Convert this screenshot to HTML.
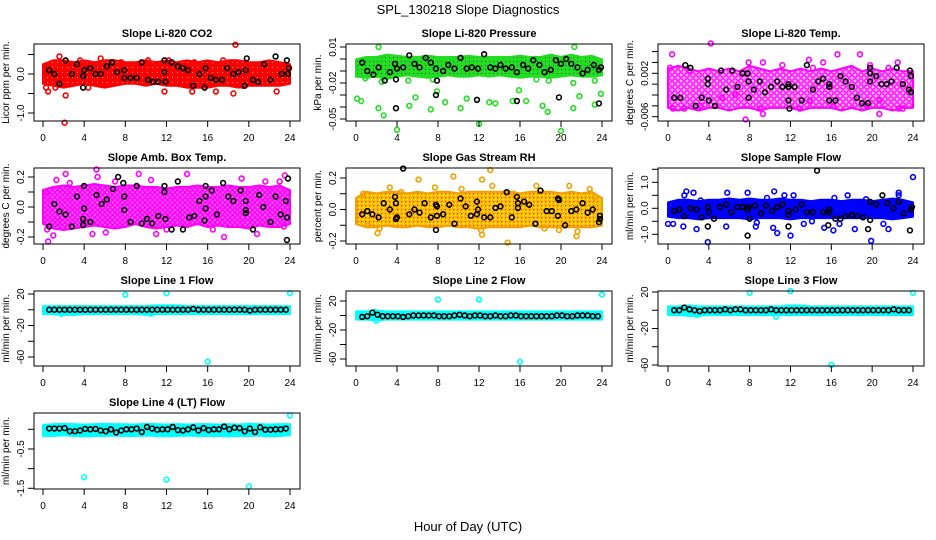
<!DOCTYPE html>
<html><head><meta charset="utf-8"><style>
html,body{margin:0;padding:0;background:#fff;}
svg{display:block;font-family:"Liberation Sans",sans-serif;}
</style></head><body>
<svg id="chart" width="936" height="540" xmlns="http://www.w3.org/2000/svg">
<defs>
<pattern id="patMag" width="6" height="6" patternUnits="userSpaceOnUse"><rect width="6" height="6" fill="#ffb0ff"/><circle cx="3" cy="3" r="2.2" fill="none" stroke="#ff00ff" stroke-width="1.4"/></pattern>
<pattern id="patMag2" width="5" height="5" patternUnits="userSpaceOnUse"><rect width="5" height="5" fill="#ff60ff"/><circle cx="2.5" cy="2.5" r="1.9" fill="none" stroke="#ff00ff" stroke-width="1.4"/></pattern>
<pattern id="patGreen" width="4" height="4" patternUnits="userSpaceOnUse"><rect width="4" height="4" fill="#22dd22"/><rect x="1" y="1" width="1" height="1" fill="#116611"/></pattern>
<pattern id="patOrange" width="4" height="4" patternUnits="userSpaceOnUse"><rect width="4" height="4" fill="#ffc000"/><rect x="1" y="1" width="1.2" height="1.2" fill="#e03000"/><rect x="3" y="3" width="1" height="1" fill="#ffff30"/></pattern>
<pattern id="patRed" width="5" height="5" patternUnits="userSpaceOnUse"><rect width="5" height="5" fill="#ff0000"/><rect x="2" y="2" width="1" height="1" fill="#ff9090"/></pattern>
</defs>
<text x="468" y="14" text-anchor="middle" font-size="13">SPL_130218  Slope Diagnostics</text>
<text x="468" y="531" text-anchor="middle" font-size="13">Hour of Day (UTC)</text>
</svg>
<script>
const xTicks=[0,4,8,12,16,20,24];
const bandHours=[0,1,2,3,4,5,6,7,8,9,10,11,12,13,14,15,16,17,18,19,20,21,22,23,24];
const lineHours=[0.6,1.1,1.6,2.1,2.6,3.1,3.6,4.1,4.6,5.1,5.6,6.1,6.6,7.1,7.6,8.1,8.6,9.1,9.6,10.1,10.6,11.1,11.6,12.1,12.6,13.1,13.6,14.1,14.6,15.1,15.6,16.1,16.6,17.1,17.6,18.1,18.6,19.1,19.6,20.1,20.6,21.1,21.6,22.1,22.6,23.1,23.6];

// Panel 1 CO2
const p1Lo=[-0.2,-0.25,-0.3,-0.25,-0.2,-0.25,-0.3,-0.25,-0.2,-0.2,-0.25,-0.2,-0.25,-0.25,-0.3,-0.3,-0.3,-0.25,-0.25,-0.3,-0.25,-0.25,-0.25,-0.25,-0.2];
const p1Hi=[0.2,0.3,0.3,0.25,0.3,0.25,0.3,0.3,0.25,0.25,0.3,0.25,0.3,0.25,0.3,0.25,0.3,0.25,0.3,0.3,0.25,0.25,0.3,0.25,0.2];
const p1Col=[[2.1,-1.25],[18.7,0.75],[2.2,-0.55],[0.3,-0.35],[0.5,-0.45],[1.6,0.45],[5.6,0.4],[12.2,0.35],[14.5,-0.45],[16.8,-0.45],[18.5,-0.5],[22.7,-0.45],[3.6,0.35],[10.2,0.35],[17.5,0.35],[1.2,-0.35],[19.4,-0.3],[7.6,0.3],[11.8,-0.45],[4.4,-0.35],[14.7,0.3]];
const p1Blk=[[0.6,0.1],[1.1,0.0],[1.6,-0.25],[2.2,0.35],[2.8,0.0],[3.3,0.25],[3.9,-0.05],[3.9,-0.35],[4,0.1],[4.6,0.15],[5.1,0.0],[5.6,0.0],[6.2,0.2],[6.7,0.3],[7.2,0.05],[7.9,0.1],[7.9,-0.1],[8.5,-0.1],[9.1,-0.1],[9.6,0.3],[10.2,-0.15],[10.7,-0.2],[11.2,-0.2],[11.8,0.05],[11.8,0.35],[11.9,-0.2],[12.5,0.3],[13.1,0.2],[13.6,0.15],[14.1,0.1],[14.6,-0.3],[15.2,0.0],[15.7,-0.35],[15.8,0.15],[16.3,-0.1],[16.8,-0.15],[17.4,-0.15],[17.9,0.15],[18.5,0.0],[19,0.05],[19.6,-0.3],[19.7,0.1],[19.8,0.4],[20.4,-0.15],[20.9,-0.2],[21.5,0.25],[22.1,-0.15],[22.6,0.45],[23.2,0.0],[23.7,0.35],[23.8,0.0],[23.9,0.15]];
const p1YTicks=[0.5,0,-0.5,-1];
const p1YLabels=["","0.0","","-1.0"];

// Panel 2 Pressure
const p2Lo=[-0.013,-0.014,-0.013,-0.015,-0.013,-0.012,-0.013,-0.014,-0.013,-0.012,-0.013,-0.013,-0.012,-0.013,-0.012,-0.013,-0.014,-0.013,-0.013,-0.014,-0.013,-0.012,-0.013,-0.013,-0.012];
const p2Hi=[-0.002,0.0,0.0,0.002,0.001,0.0,0.0,0.001,0.0,0.0,0.0,0.001,0.0,0.0,0.0,0.0,0.001,0.0,0.0,0.002,0.0,0.002,0.0,0.001,-0.002];
const p2Col=[[0.1,-0.033],[0.5,-0.035],[2.2,-0.041],[2.7,-0.047],[4,-0.059],[5.2,-0.039],[5.8,-0.032],[7.3,-0.042],[7.9,-0.027],[8.7,-0.036],[10.2,-0.041],[10.8,-0.033],[12,-0.054],[13,-0.036],[13.6,-0.037],[15.3,-0.035],[15.9,-0.026],[16.6,-0.035],[18.2,-0.039],[18.7,-0.044],[20,-0.060],[21.2,-0.041],[21.8,-0.031],[23.3,-0.038],[23.9,-0.029],[23.3,-0.018],[21.2,-0.02],[17.6,-0.017],[2.2,0.01],[21.3,0.01],[2.5,-0.019],[5.1,-0.018],[7.5,-0.017],[18.8,-0.018],[0.9,-0.016]];
const p2Blk=[[0.6,-0.003],[1.1,-0.010],[1.7,-0.013],[2.2,-0.007],[2.8,-0.018],[3.3,-0.011],[3.8,-0.004],[3.9,-0.017],[3.9,-0.041],[4,-0.008],[4.6,-0.007],[5.2,0.003],[5.7,-0.004],[6.2,-0.007],[6.8,0.001],[7.3,-0.003],[7.8,-0.008],[7.9,-0.018],[7.8,-0.03],[8.5,-0.010],[9,-0.005],[9.6,-0.008],[10.2,0.001],[10.8,-0.008],[11.3,-0.007],[11.8,-0.034],[11.9,-0.008],[12.5,0.004],[13.1,-0.007],[13.6,-0.008],[14.1,-0.005],[14.6,-0.008],[15.2,-0.007],[15.7,-0.011],[15.7,-0.035],[16.3,-0.005],[16.8,-0.008],[17.3,-0.001],[17.9,-0.005],[18.4,-0.011],[19,-0.009],[19.5,-0.001],[19.8,-0.032],[20,-0.004],[20.5,0.0],[21,-0.004],[21.6,-0.007],[22.1,-0.012],[22.6,-0.009],[23.2,-0.005],[23.7,-0.009],[23.7,-0.037],[23.9,-0.007]];
const p2YTicks=[0.01,0,-0.01,-0.02,-0.03,-0.04,-0.05];
const p2YLabels=["0.01","","","-0.02","","","-0.05"];

// Panel 3 Li-820 Temp
const p3Lo=[-0.004,-0.0045,-0.004,-0.0045,-0.004,-0.004,-0.0045,-0.004,-0.004,-0.0045,-0.004,-0.004,-0.004,-0.0045,-0.004,-0.004,-0.004,-0.0045,-0.004,-0.0045,-0.004,-0.004,-0.0045,-0.004,-0.004];
const p3Hi=[0.0025,0.003,0.0025,0.002,0.0025,0.002,0.0025,0.002,0.003,0.0025,0.002,0.0025,0.002,0.0025,0.002,0.0025,0.002,0.0025,0.003,0.002,0.0025,0.002,0.0025,0.002,0.002];
const p3Col=[[0.4,0.0055],[4.2,0.0075],[13.8,0.0045],[16.6,0.0055],[18.8,0.0055],[0.5,-0.0045],[7.6,-0.0065],[9,-0.0045],[9.3,-0.0055],[12.9,-0.0045],[20.7,-0.0055],[22.6,-0.0045],[23,-0.0045],[1.6,-0.0045],[3.2,-0.004],[16.2,-0.004],[19.5,-0.004],[0.2,0.003],[7.9,0.004],[9.3,0.004],[11.2,0.0035],[14.2,0.003],[15.2,0.004],[19.8,0.0035],[22.5,0.004],[5.3,-0.0025],[6.6,-0.002],[13.9,-0.003],[20.7,-0.003],[2.1,0.0025],[21.6,0.003]];
const p3Blk=[[0.6,-0.0025],[1.2,-0.0025],[1.7,0.0035],[2.2,0.003],[2.7,-0.004],[3.3,-0.0025],[3.9,0.001],[3.9,0.0],[4,-0.003],[4.6,-0.004],[5.2,0.0025],[5.7,-0.001],[6.3,0.0025],[6.8,-0.0005],[7.3,0.002],[7.8,0.002],[7.9,0.0005],[7.9,-0.0025],[8.4,-0.001],[9,0.0005],[9.5,-0.0015],[10.1,-0.0005],[10.7,0.0005],[11.2,-0.0005],[11.8,-0.0005],[11.8,0.0],[11.8,-0.003],[11.9,-0.0045],[12.4,-0.0005],[13.1,-0.003],[13.6,0.0035],[14.2,-0.001],[14.7,0.0005],[15.2,0.001],[15.8,0.0],[15.8,-0.0005],[15.8,-0.003],[16.4,-0.003],[16.9,0.0015],[17.4,0.0005],[18,-0.0005],[18.5,-0.0025],[19.0,-0.0035],[19.6,-0.0035],[19.8,0.0005],[19.8,0.002],[19.8,0.003],[20.4,0.0015],[20.9,0.0],[21.4,0.0],[21.9,0.0005],[22.4,0.003],[23.0,0.0],[23.6,-0.001],[23.7,0.0025],[23.8,0.0015],[23.8,-0.0015]];
const p3YTicks=[0.006,0.004,0.002,0,-0.002,-0.004,-0.006];
const p3YLabels=["","","0.002","","","","-0.006"];

// Panel 4 Amb Box Temp
const p4Lo=[-0.1,-0.13,-0.14,-0.13,-0.12,-0.11,-0.12,-0.13,-0.12,-0.1,-0.12,-0.13,-0.12,-0.11,-0.12,-0.1,-0.12,-0.11,-0.12,-0.12,-0.13,-0.11,-0.12,-0.12,-0.1];
const p4Hi=[0.1,0.12,0.13,0.12,0.13,0.14,0.13,0.12,0.13,0.13,0.12,0.12,0.11,0.12,0.12,0.13,0.12,0.12,0.13,0.12,0.12,0.13,0.12,0.13,0.1];
const p4Col=[[0.3,0.1],[0.5,-0.23],[1,-0.19],[1.3,0.18],[2.2,0.22],[5.2,0.25],[5.3,0.2],[6.1,-0.17],[7,0.17],[9.3,0.22],[10.5,0.18],[11,-0.18],[14,0.22],[17.6,-0.2],[19.3,0.19],[20.8,-0.18],[21.6,0.17],[23,0.17],[23.5,0.21],[23.4,-0.13],[4.8,-0.18],[0.4,-0.15],[2.6,0.16],[12,-0.15],[16.5,-0.15]];
const p4Blk=[[0.6,-0.13],[1.1,0.02],[1.6,-0.03],[2.2,-0.05],[2.8,-0.13],[3.3,0.07],[3.9,-0.12],[3.9,-0.08],[4,0.14],[4,-0.01],[4.6,-0.1],[5.2,0.08],[5.7,0.02],[6.2,0.05],[6.8,0.12],[7.3,0.2],[7.8,0.16],[7.9,0.07],[7.9,-0.02],[8.5,-0.1],[9.1,0.14],[9.6,-0.11],[10.1,-0.08],[10.6,-0.11],[11.2,-0.06],[11.8,0.14],[11.8,0.1],[11.9,-0.08],[12.5,-0.15],[13.1,0.17],[13.6,-0.15],[14.2,-0.07],[14.7,-0.06],[15.2,0.04],[15.8,0.14],[15.8,0.07],[15.8,-0.01],[15.7,-0.09],[16.4,0.11],[16.9,-0.05],[17.5,0.16],[18,0.07],[18.5,0.04],[19.2,0.11],[19.7,0.04],[19.7,-0.02],[19.7,-0.04],[20.4,-0.15],[21,0.08],[21.4,0.0],[22.1,-0.1],[22.6,0.07],[23.1,-0.05],[23.6,0.04],[23.8,0.19],[23.7,-0.07],[23.7,-0.22]];
const p4YTicks=[0.2,0.1,0,-0.1,-0.2];
const p4YLabels=["0.2","","0.0","","-0.2"];

// Panel 5 Gas Stream RH
const p5Lo=[-0.08,-0.1,-0.1,-0.09,-0.1,-0.1,-0.09,-0.1,-0.1,-0.09,-0.1,-0.1,-0.11,-0.1,-0.1,-0.1,-0.1,-0.09,-0.1,-0.1,-0.1,-0.1,-0.1,-0.1,-0.09];
const p5Hi=[0.06,0.1,0.09,0.1,0.1,0.09,0.1,0.09,0.1,0.1,0.09,0.1,0.1,0.1,0.1,0.1,0.09,0.1,0.1,0.1,0.09,0.1,0.09,0.1,0.06];
const p5Col=[[2.1,-0.15],[2.3,-0.12],[3.3,0.14],[4.4,0.11],[6.1,0.19],[7.7,0.14],[9.5,0.21],[10.3,0.13],[12.3,0.19],[12.3,-0.16],[12.2,-0.13],[13.1,0.25],[13.3,0.15],[14.8,-0.21],[17.6,0.15],[18.4,-0.12],[19.8,-0.13],[20.8,0.15],[21.5,-0.17],[21.6,-0.14],[22.8,0.13],[23.3,0.08],[0.7,0.1],[1.2,-0.1],[15.4,0.1]];
const p5Blk=[[0.6,-0.03],[1.1,-0.01],[1.6,-0.03],[2.2,-0.05],[2.7,0.04],[3.3,0.0],[3.8,0.08],[3.9,0.04],[3.9,-0.06],[4,-0.05],[4.6,0.26],[5.2,-0.03],[5.7,0.0],[6.2,-0.02],[6.7,0.04],[7.3,-0.05],[7.8,0.03],[7.9,0.02],[7.9,-0.04],[7.8,-0.13],[8.5,-0.03],[9.1,0.03],[9.6,-0.09],[10.2,0.07],[10.7,0.02],[11.2,-0.04],[11.8,0.05],[11.8,-0.03],[11.9,0.0],[12.5,-0.05],[13.1,-0.05],[13.6,0.01],[14.1,0.02],[14.7,0.11],[15.2,-0.05],[15.7,0.08],[15.8,0.04],[15.8,0.01],[16.4,0.05],[16.9,0.03],[17.5,-0.09],[18.0,0.12],[18.6,-0.01],[19.1,-0.01],[19.7,0.07],[19.8,0.06],[19.7,-0.04],[20.4,-0.1],[21,-0.01],[21.5,0.0],[22.1,0.04],[22.6,-0.02],[23.1,0.0],[23.8,-0.04],[23.8,-0.06],[23.7,-0.08]];
const p5YTicks=[0.2,0.1,0,-0.1,-0.2];
const p5YLabels=["0.2","","0.0","","-0.2"];

// Panel 6 Sample Flow
const p6Lo=[-0.25,-0.3,-0.3,-0.35,-0.3,-0.3,-0.3,-0.3,-0.35,-0.3,-0.3,-0.3,-0.35,-0.3,-0.3,-0.3,-0.3,-0.3,-0.3,-0.3,-0.3,-0.3,-0.35,-0.3,-0.25];
const p6Hi=[0.15,0.25,0.25,0.2,0.25,0.25,0.3,0.25,0.3,0.25,0.25,0.3,0.25,0.25,0.2,0.25,0.25,0.2,0.25,0.25,0.2,0.25,0.3,0.25,0.15];
const p6Col=[[0,-0.6],[0.5,-0.6],[1.5,-0.7],[1.6,0.5],[1.8,0.65],[2.5,0.6],[2.8,-0.8],[3.2,0.3],[3.9,-1.3],[4.4,-0.3],[5.8,0.6],[5.7,-0.7],[7.8,0.6],[8.6,-0.7],[8.7,-0.55],[10.3,-0.75],[10.4,0.65],[10.7,-0.95],[11.4,0.5],[12,-1.05],[12.3,0.5],[13.3,-0.6],[15.3,-0.75],[16.2,-0.85],[16.3,0.4],[16.8,-0.6],[17.6,0.5],[18.3,-0.8],[19.4,0.35],[19.9,-1.25],[21.1,-0.6],[21.6,-0.8],[22.6,0.6],[22.6,0.5],[24,1.2],[9.7,0.4],[14.1,-0.5]];
const p6Blk=[[0.6,-0.1],[1.1,-0.05],[1.6,-0.3],[2.2,0.0],[2.8,-0.05],[3.3,-0.35],[3.9,-0.7],[3.9,0.05],[4,-0.15],[4.5,-0.4],[5.1,0.05],[5.7,0.15],[6.2,-0.15],[6.8,0.05],[7.3,0.05],[7.8,-1.05],[7.8,-0.05],[7.9,0.05],[8,-0.4],[8.5,0.1],[9.1,-0.2],[9.6,0.1],[10.2,-0.1],[10.7,0.05],[11.2,0.15],[11.8,-0.1],[11.8,-0.25],[11.8,-0.7],[12.5,-0.05],[13.1,0.15],[13.6,-0.15],[14.2,-0.15],[14.6,1.45],[15.2,-0.15],[15.8,-0.15],[15.8,-0.05],[15.7,-0.65],[16.4,-0.4],[16.9,-0.4],[17.4,-0.3],[18,-0.25],[18.5,-0.3],[19.1,-0.35],[19.6,-0.8],[19.8,0.25],[19.8,-0.45],[20.4,0.15],[21,0.5],[21.5,0.2],[22.1,0.0],[22.6,0.25],[23.1,-0.2],[23.7,-0.85],[23.8,-0.05],[23.9,0.05]];
const p6YTicks=[1.5,1,0.5,0,-0.5,-1];
const p6YLabels=["","1.0","","0.0","","-1.0"];

// Panels 7-10 Line flows
const p7Lo=[-3,-3,-4,-4,-3,-3,-3,-3,-3,-3,-4,-3,-3,-3,-3,-3,-3,-3,-3,-3,-3,-3,-3,-3,-3];
const p7Hi=[2,2,2,2,2,2,2,2,2,2,2,3,3,3,2,2,2,2,2,2,2,2,2,2,2];
const p7Col=[[8,19],[12,21],[24,21],[16,-66],[1.8,-5],[2.8,-4],[10.5,-5],[11.7,3],[13.6,2]];
const p7Blk=[0,0,0,0,0,0,0,0,0,0,0,0,0,0,0,0,0,0,0,0,0,0,0,0,0,0,0,0,1,0,0,0,0,0,0,0,0,0,0,-1,0,0,0,0,0,0,0];
const p8Lo=[-3,-3,-4,-3,-3,-3,-3,-3,-3,-3,-3,-3,-3,-3,-3,-3,-3,-3,-3,-3,-3,-3,-3,-3,-3];
const p8Hi=[3,3,4,3,3,3,3,3,3,3,3,3,3,3,3,3,3,3,3,3,3,3,3,3,3];
const p8Col=[[8,22],[12,22],[24,29],[16,-64],[2,-7],[1.8,5]];
const p8Blk=[-2,-1,4,1,-1,-1,-1,-1,-2,-1,0,0,0,0,0,-1,-1,-1,0,1,0,-1,0,0,-1,-1,0,-1,-1,0,0,-1,-1,-1,-1,-1,-1,-1,0,0,-1,-1,0,0,0,-1,-1];
const p9Lo=[-3,-3,-4,-4,-3,-3,-3,-3,-3,-3,-3,-3,-3,-3,-3,-3,-3,-3,-3,-3,-3,-3,-3,-3,-3];
const p9Hi=[2,2,3,2,2,2,2,2,2,2,2,2,3,3,2,2,2,2,2,2,2,2,2,2,2];
const p9Col=[[8,19],[12,21],[24,19],[16,-60],[10.6,-7],[2.8,-5],[11.6,3],[13.4,2]];
const p9Blk=[0,0,3,1,0,-1,0,0,0,0,1,0,1,1,0,0,0,0,0,1,0,0,0,0,0,0,0,0,0,0,0,0,0,0,0,0,0,0,0,0,0,0,0,1,0,0,0];
const p10Lo=[-0.12,-0.12,-0.1,-0.12,-0.13,-0.12,-0.12,-0.11,-0.12,-0.12,-0.11,-0.12,-0.13,-0.12,-0.11,-0.12,-0.12,-0.12,-0.13,-0.12,-0.12,-0.11,-0.13,-0.12,-0.1];
const p10Hi=[0.06,0.08,0.09,0.08,0.07,0.08,0.09,0.08,0.08,0.07,0.09,0.08,0.07,0.08,0.07,0.08,0.08,0.07,0.08,0.07,0.09,0.08,0.07,0.08,0.08];
const p10Col=[[4,-1.22],[12,-1.28],[20,-1.45],[24,0.35]];
const p10Blk=[0.02,0.02,0.02,0.03,-0.05,-0.05,-0.03,0.01,0.0,0.01,-0.03,-0.05,0.0,-0.08,-0.03,0.0,0.0,0.02,-0.07,0.06,0.02,-0.01,0.0,0.0,0.06,-0.02,-0.03,0.0,0.05,-0.03,0.03,-0.02,0.0,0.0,0.07,0.0,0.04,0.03,-0.05,0.02,-0.07,0.05,-0.01,-0.01,0.0,0.0,0.02];
const flowYTicks=[20,0,-20,-40,-60];
const flowYLabels=["20","","-20","","-60"];
const p10YTicks=[0,-0.5,-1,-1.5];
const p10YLabels=["","-0.5","","-1.5"];

const NS="http://www.w3.org/2000/svg";
const svg=document.getElementById('chart');
function mk(tag,attrs,parent){const e=document.createElementNS(NS,tag);for(const k in attrs)e.setAttribute(k,attrs[k]);(parent||svg).appendChild(e);return e;}
function pairsFromLine(vals){return vals.map((v,i)=>[lineHours[i],v]);}

function panel(cfg){
  const g=mk('g',{});
  
  
  const x=h=>cfg.x0+(cfg.x24-cfg.x0)*h/24;
  const y=v=>cfg.yA+(cfg.yB-cfg.yA)*(v-cfg.vA)/(cfg.vB-cfg.vA);
  const t=mk('text',{x:(cfg.bl+cfg.br)/2,y:cfg.bt-7,'text-anchor':'middle','font-size':11,'font-weight':'bold'},g);
  t.textContent=cfg.title;
  
  
  let pts=bandHours.map((h,i)=>x(h)+','+(y(cfg.hi[i])-2)).concat(bandHours.slice().reverse().map((h,j)=>x(h)+','+(y(cfg.lo[cfg.lo.length-1-j])+2)));
  const band=mk('polygon',{points:pts.join(' '),fill:cfg.fill||cfg.color,stroke:cfg.color,'stroke-width':2,'stroke-linejoin':'round'},g);
  
  
  cfg.col.forEach(p=>{
    const c=mk('circle',{cx:x(p[0]),cy:y(p[1]),r:2.4,fill:'none',stroke:cfg.color,'stroke-width':1.6},g);
    
    
  });
  cfg.blk.forEach(p=>{
    const c=mk('circle',{cx:x(p[0]),cy:y(p[1]),r:2.4,fill:'none',stroke:'#000','stroke-width':1.6},g);
    
    
  });
  const box=mk('rect',{x:cfg.bl,y:cfg.bt,width:cfg.br-cfg.bl,height:cfg.bb-cfg.bt,fill:'none',stroke:'#000','stroke-width':1},g);
  
  
  xTicks.forEach(h=>{
    mk('line',{x1:x(h),x2:x(h),y1:cfg.bb,y2:cfg.bb+6,stroke:'#000'},g);
    const l=mk('text',{x:x(h),y:cfg.bb+20,'text-anchor':'middle','font-size':10},g);
    l.textContent=h;
    
    
  });
  cfg.yt.forEach((v,i)=>{
    mk('line',{x1:cfg.bl-6,x2:cfg.bl,y1:y(v),y2:y(v),stroke:'#000'},g);
    if(cfg.yl[i]){
      const l=mk('text',{x:0,y:0,'text-anchor':'middle','font-size':10,transform:'translate('+(cfg.bl-10)+','+y(v)+') rotate(-90)'},g);
      l.textContent=cfg.yl[i];
      
      
    }
  });
  const yt=mk('text',{x:0,y:0,'text-anchor':'middle','font-size':10,transform:'translate('+(cfg.bl-25)+','+((cfg.bt+cfg.bb)/2)+') rotate(-90)'},g);
  yt.textContent=cfg.ylab;
  
  
}
const C1={bl:34,br:300,x0:43,x24:290},C2={bl:346,br:612,x0:356,x24:602},C3={bl:658,br:924,x0:668,x24:913};
const R1={bt:44,bb:121},R2={bt:168,bb:244},R3={bt:291,bb:366},R4={bt:413,bb:489};
panel(Object.assign({name:'panel-co2',title:'Slope Li-820 CO2',ylab:'Licor ppm per min.',color:'#ff0000',fill:'url(#patRed)',lo:p1Lo,hi:p1Hi,col:p1Col,blk:p1Blk,yt:p1YTicks,yl:p1YLabels,vA:0,yA:74,vB:-1,yB:113},C1,R1));
panel(Object.assign({name:'panel-pressure',title:'Slope Li-820 Pressure',ylab:'kPa per min.',color:'#22dd22',fill:'url(#patGreen)',lo:p2Lo,hi:p2Hi,col:p2Col,blk:p2Blk,yt:p2YTicks,yl:p2YLabels,vA:0.01,yA:47,vB:-0.05,yB:119},C2,R1));
panel(Object.assign({name:'panel-li820-temp',title:'Slope Li-820 Temp.',ylab:'degrees C per min.',color:'#ff00ff',fill:'url(#patMag)',lo:p3Lo,hi:p3Hi,col:p3Col,blk:p3Blk,yt:p3YTicks,yl:p3YLabels,vA:0.002,yA:73.3,vB:-0.006,yB:116.7},C3,R1));
panel(Object.assign({name:'panel-amb-box-temp',title:'Slope Amb. Box Temp.',ylab:'degrees C per min.',color:'#ff00ff',fill:'url(#patMag2)',lo:p4Lo,hi:p4Hi,col:p4Col,blk:p4Blk,yt:p4YTicks,yl:p4YLabels,vA:0.2,yA:177,vB:-0.2,yB:237},C1,R2));
panel(Object.assign({name:'panel-gas-stream-rh',title:'Slope Gas Stream RH',ylab:'percent per min.',color:'#f2a000',fill:'url(#patOrange)',lo:p5Lo,hi:p5Hi,col:p5Col,blk:p5Blk,yt:p5YTicks,yl:p5YLabels,vA:0.2,yA:178,vB:-0.2,yB:241},C2,R2));
panel(Object.assign({name:'panel-sample-flow',title:'Slope Sample Flow',ylab:'ml/min per min.',color:'#0000ff',lo:p6Lo,hi:p6Hi,col:p6Col,blk:p6Blk,yt:p6YTicks,yl:p6YLabels,vA:1,yA:182.3,vB:-1,yB:234.3},C3,R2));
panel(Object.assign({name:'panel-line1-flow',title:'Slope Line 1 Flow',ylab:'ml/min per min.',color:'#00ffff',lo:p7Lo,hi:p7Hi,col:p7Col,blk:pairsFromLine(p7Blk),yt:flowYTicks,yl:flowYLabels,vA:20,yA:294,vB:-60,yB:357},C1,R3));
panel(Object.assign({name:'panel-line2-flow',title:'Slope Line 2 Flow',ylab:'ml/min per min.',color:'#00ffff',lo:p8Lo,hi:p8Hi,col:p8Col,blk:pairsFromLine(p8Blk),yt:flowYTicks,yl:flowYLabels,vA:20,yA:301,vB:-60,yB:359},C2,R3));
panel(Object.assign({name:'panel-line3-flow',title:'Slope Line 3 Flow',ylab:'ml/min per min.',color:'#00ffff',lo:p9Lo,hi:p9Hi,col:p9Col,blk:pairsFromLine(p9Blk),yt:flowYTicks,yl:flowYLabels,vA:20,yA:292,vB:-60,yB:365},C3,R3));
panel(Object.assign({name:'panel-line4-flow',title:'Slope Line 4 (LT) Flow',ylab:'ml/min per min.',color:'#00ffff',lo:p10Lo,hi:p10Hi,col:p10Col,blk:pairsFromLine(p10Blk),yt:p10YTicks,yl:p10YLabels,vA:0,yA:429.3,vB:-1.5,yB:488.3},C1,R4));
</script>
</body></html>
